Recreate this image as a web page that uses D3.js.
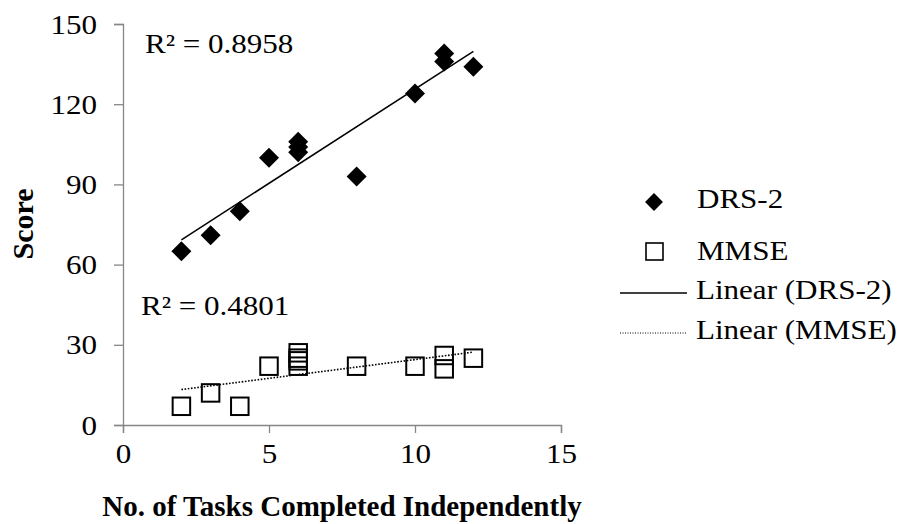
<!DOCTYPE html>
<html>
<head>
<meta charset="utf-8">
<script src="https://cdn.jsdelivr.net/npm/d3@7"></script>
<style>
  body { margin: 0; background: #fff; }
  svg { display: block; }
  svg text { font-family: 'Liberation Serif', 'Times New Roman', 'DejaVu Serif', serif; fill: #000; }
</style>
</head>
<body>
<script>
// data
const drsTasks = [2, 3, 4, 5, 6, 6, 6, 8, 10, 11, 11, 12]
const drsScores = [65, 71, 80, 100, 106, 104, 102, 93, 124, 139, 136, 134]
const mmseTasks = [2, 3, 4, 5, 6, 6, 6, 6, 8, 10, 11, 11, 12]
const mmseScores = [7, 12, 7, 22, 27, 25, 24, 22, 22, 22, 26, 21, 25]
const xTicks = [0, 5, 10, 15]
const yTicks = [0, 30, 60, 90, 120, 150]
const drsR2 = 'R² = 0.8958'
const mmseR2 = 'R² = 0.4801'

const W = 906, H = 524
const M = { LEFT: 123, TOP: 24, RIGHT: 561, BOTTOM: 425 }
const AXIS_COLOR = '#868686'
const FONT = 27
const SX = 1.15  // the original text is a bit wide

const svg = d3.select('body').append('svg')
  .attr('width', W).attr('height', H)

const x = d3.scaleLinear().domain([0, 15]).range([M.LEFT, M.RIGHT])
const y = d3.scaleLinear().domain([0, 150]).range([M.BOTTOM, M.TOP])

function label(g, px, py, str, size = FONT, sx = SX) {
  return g.append('text')
    .attr('transform', `translate(${px},${py}) scale(${sx},1)`)
    .attr('font-size', size)
    .text(str)
}

// axes
const yAxis = svg.append('g')
  .attr('transform', `translate(${M.LEFT},0)`)
  .call(d3.axisLeft(y).tickValues(yTicks).tickSize(9))
yAxis.attr('font-family', null)
yAxis.selectAll('path, line').attr('stroke', AXIS_COLOR).attr('stroke-width', 1.3)
yAxis.selectAll('text')
  .attr('font-size', FONT)
  .attr('x', -26 / SX).attr('dy', '0.34em')
  .attr('transform', `scale(${SX},1)`)

const xAxis = svg.append('g')
  .attr('transform', `translate(0,${M.BOTTOM})`)
  .call(d3.axisBottom(x).tickValues(xTicks).tickSize(8))
xAxis.attr('font-family', null)
xAxis.selectAll('path, line').attr('stroke', AXIS_COLOR).attr('stroke-width', 1.3)
xAxis.selectAll('text')
  .attr('font-size', FONT)
  .attr('y', 38).attr('dy', 0)
  .attr('transform', `scale(${SX},1)`)

// axis titles
svg.append('text')
  .attr('x', 342).attr('y', 516)
  .attr('text-anchor', 'middle')
  .attr('font-size', 29).attr('font-weight', 'bold')
  .text('No. of Tasks Completed Independently')

svg.append('text')
  .attr('transform', 'translate(33,224) rotate(-90)')
  .attr('text-anchor', 'middle')
  .attr('font-size', 30).attr('font-weight', 'bold')
  .text('Score')

// least squares trend line, like Excel does
function fit(xs, ys) {
  const mx = d3.mean(xs), my = d3.mean(ys)
  const sxy = d3.sum(xs, (v, i) => (v - mx) * (ys[i] - my))
  const sxx = d3.sum(xs, v => (v - mx) ** 2)
  const b = sxy / sxx
  const a = my - b * mx
  const x0 = d3.min(xs), x1 = d3.max(xs)
  return [[x0, a + b * x0], [x1, a + b * x1]]
}

const line = d3.line().x(d => x(d[0])).y(d => y(d[1]))

svg.append('path')
  .attr('d', line(fit(drsTasks, drsScores)))
  .attr('stroke', '#000').attr('stroke-width', 1.5).attr('fill', 'none')

svg.append('path')
  .attr('d', line(fit(mmseTasks, mmseScores)))
  .attr('stroke', '#000').attr('stroke-width', 1.6).attr('fill', 'none')
  .attr('stroke-dasharray', '1.6,1.6')

// points
const diamond = d3.symbol().type(d3.symbolSquare).size(200)
svg.append('g').selectAll('path')
  .data(drsTasks.map((t, i) => [t, drsScores[i]]))
  .join('path')
  .attr('d', diamond)
  .attr('transform', d => `translate(${x(d[0])},${y(d[1])}) rotate(45)`)
  .attr('fill', '#000')

const SQ = 17.5
svg.append('g').selectAll('rect')
  .data(mmseTasks.map((t, i) => [t, mmseScores[i]]))
  .join('rect')
  .attr('x', d => x(d[0]) - SQ / 2)
  .attr('y', d => y(d[1]) - SQ / 2)
  .attr('width', SQ).attr('height', SQ)
  .attr('fill', 'none').attr('stroke', '#000').attr('stroke-width', 2)

// R² labels
label(svg, 145, 53, drsR2)
label(svg, 141, 315, mmseR2)

// legend
const legend = svg.append('g')
legend.append('path')
  .attr('d', d3.symbol().type(d3.symbolSquare).size(160))
  .attr('transform', 'translate(654,202) rotate(45)')
label(legend, 697, 208, 'DRS-2')

legend.append('rect')
  .attr('x', 646).attr('y', 243).attr('width', 17).attr('height', 17)
  .attr('fill', 'none').attr('stroke', '#000').attr('stroke-width', 1.6)
label(legend, 697, 260, 'MMSE')

legend.append('line')
  .attr('x1', 620).attr('x2', 687).attr('y1', 293).attr('y2', 293)
  .attr('stroke', '#000').attr('stroke-width', 1.5)
label(legend, 696, 299, 'Linear (DRS-2)')

legend.append('line')
  .attr('x1', 620).attr('x2', 687).attr('y1', 333).attr('y2', 333)
  .attr('stroke', '#000').attr('stroke-width', 1.2).attr('stroke-dasharray', '1,1.5')
label(legend, 696, 339, 'Linear (MMSE)')
</script>
</body>
</html>
